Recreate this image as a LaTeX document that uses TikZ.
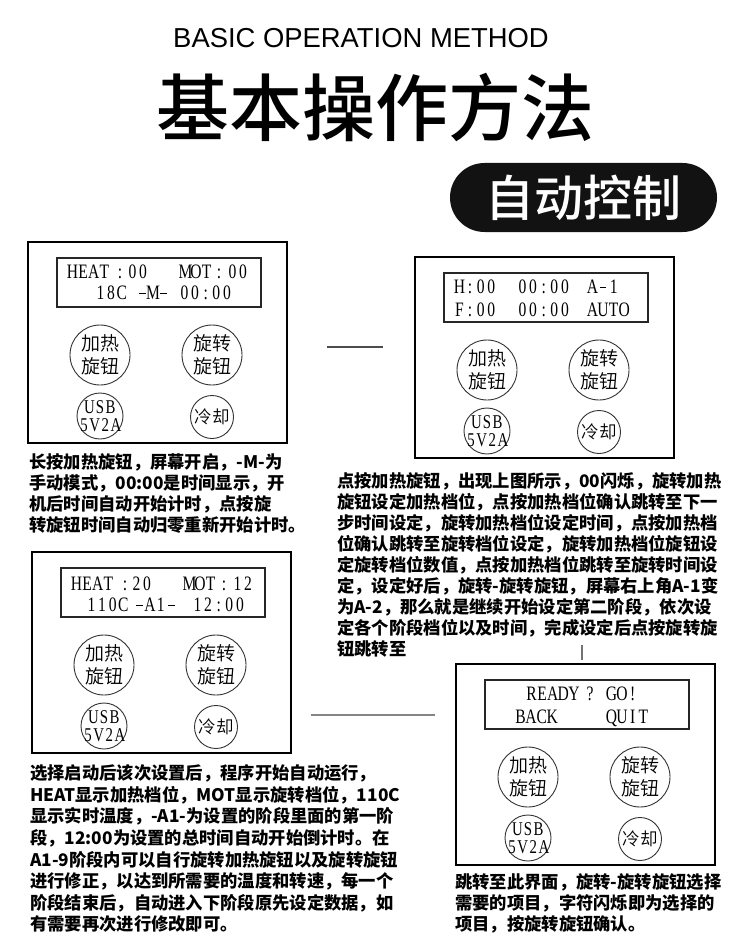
\documentclass[tikz,border=0pt]{standalone}
\usepackage{fontspec}
\setmainfont{Liberation Serif}
\newfontfamily\hdfont{Liberation Sans}
\newfontfamily\cjk{Noto Sans CJK SC}
\newfontfamily\cjkm{Noto Sans CJK SC Medium}
\newfontfamily\cjkl{Noto Sans CJK SC DemiLight}
\newfontfamily\lcdfont{Liberation Serif}[FakeStretch=0.76]
\newlength\lcdw
\setlength\lcdw{10.6pt}
\def\lcdloop#1{\ifx#1\relax\else\lcdone{#1}\expandafter\lcdloop\fi}
\def\lcdone#1{\makebox[\lcdw]{\ifx#1-\rule[5.6pt]{6.5pt}{0.9pt}\else#1\fi}}
\newcommand\lcd[1]{\lcdloop#1\relax}
\tikzset{
 frame/.style={draw=black, line width=1.4pt, minimum width=259pt, minimum height=201pt, inner sep=0},
 lcdbox/.style={draw=black!85, line width=1.3pt, minimum width=204pt, minimum height=49pt, inner sep=0},
 btn/.style={circle, draw=black!80, line width=0.9pt, inner sep=0},
 btntxt/.style={inner sep=0, align=center, font=\cjkl\fontsize{19}{23}\selectfont},
 usbtxt/.style={inner sep=0, align=center, font=\lcdfont\fontsize{19.5}{17.7}\selectfont},
 cooltxt/.style={inner sep=0, font=\cjkl\fontsize{17.5}{17.5}\selectfont},
 lcdt/.style={anchor=base west, inner sep=0, font=\lcdfont\fontsize{20.5}{20.5}\selectfont},
 lcdc/.style={anchor=base, inner sep=0, font=\lcdfont\fontsize{20.5}{20.5}\selectfont},
 body/.style={anchor=base west, inner sep=0, text=black, font=\cjk\bfseries\fontsize{17.3}{21}\selectfont},
 pill/.style={fill=black!93, text=white, rounded corners=34.5pt, minimum width=267pt, minimum height=69pt, inner sep=0, font=\cjkm\fontsize{49}{49}\selectfont},
 linkA/.style={draw=black!70, line width=1.3pt},
 linkB/.style={draw=black!48, line width=2.2pt},
 linkC/.style={draw=black!55, line width=2pt},
}
\newcommand\mypanel[3]{%
 \begin{scope}[shift={(#2,#3)}]
  \node[frame] (#1) at (129.5,100.5) {};
  \node[lcdbox] (#1-d) at (131,40.5) {};
  \node[btn, minimum size=60pt] (#1-h) at (72,113) {};
  \node[btntxt] (#1-ht) at (#1-h) {加热\\旋钮};
  \node[btn, minimum size=60pt] (#1-r) at (184,113) {};
  \node[btntxt] (#1-rt) at (#1-r) {旋转\\旋钮};
  \node[btn, minimum size=46pt] (#1-u) at (72,174) {};
  \node[usbtxt] (#1-ut) at (#1-u) {\lcd{USB}\\\lcd{5V2A}};
  \node[btn, minimum size=43pt] (#1-c) at (184,175) {};
  \node[cooltxt] (#1-ct) at (#1-c) {冷却};
 \end{scope}}
\begin{document}
\begin{tikzpicture}[x=1pt,y=-1pt]
\useasboundingbox (0,0) rectangle (750,941);
\fill[white] (0,0) rectangle (750,941);
% header
\node[anchor=base, inner sep=0, font=\hdfont\fontsize{27.4}{27.4}\selectfont] (sub) at (361,48) {BASIC OPERATION METHOD};
\node[anchor=base, inner sep=0, font=\cjkm\fontsize{73}{73}\selectfont] (title) at (375,136) {基本操作方法};
\node[pill] (auto) at (583.5,197.5) {自动控制};
% panels
\mypanel{pa}{28}{242}
\mypanel{pb}{415}{257}
\mypanel{pc}{32}{552}
\mypanel{pd}{456}{664}
% panel A display
\node[lcdt] (pa1) at (67,278.6) {\lcd{HEAT}};
\node[lcdc] (pa2) at (120,278.6) {:};
\node[lcdt] (pa3) at (127,278.6) {\lcd{00}};
\node[lcdt] (pa4) at (180,278.6) {\lcd{MOT}};
\node[lcdc] (pa5) at (219,278.6) {:};
\node[lcdt] (pa6) at (227,278.6) {\lcd{00}};
\node[lcdt] (pa7) at (95,299.6) {\lcd{18C}};
\node[lcdt] (pa8) at (137,299.6) {\lcd{-M-}};
\node[lcdt] (pa9) at (179,299.6) {\lcd{00:00}};
% panel B display
\node[lcdt] (pb1) at (454,293.6) {\lcd{H:00}};
\node[lcdt] (pb2) at (517,293.6) {\lcd{00:00}};
\node[lcdt] (pb3) at (587,293.6) {\lcd{A-1}};
\node[lcdt] (pb4) at (454,316.6) {\lcd{F:00}};
\node[lcdt] (pb5) at (517,316.6) {\lcd{00:00}};
\node[lcdt] (pb6) at (587,316.6) {\lcd{AUTO}};
% panel C display
\node[lcdt] (pc1) at (71,590) {\lcd{HEAT}};
\node[lcdc] (pc2) at (125,590) {:};
\node[lcdt] (pc3) at (131,590) {\lcd{20}};
\node[lcdt] (pc4) at (184,590) {\lcd{MOT}};
\node[lcdc] (pc5) at (224,590) {:};
\node[lcdt] (pc6) at (232,590) {\lcd{12}};
\node[lcdt] (pc7) at (86,611.6) {\lcd{110C}};
\node[lcdt] (pc8) at (134,611.6) {\lcd{-A1-}};
\node[lcdt] (pc9) at (192,611.6) {\lcd{12:00}};
% panel D display
\node[lcdt] (pd1) at (526,700) {\lcd{READY}};
\node[lcdc] (pd2) at (590,700) {?};
\node[lcdt] (pd3) at (606,700) {\lcd{GO!}};
\node[lcdt] (pd4) at (515,723.3) {\lcd{BACK}};
\node[lcdt] (pd5) at (606,723.3) {\lcd{QUIT}};
% connectors
\coordinate (l1a) at (327,347);
\coordinate (l1b) at (383,347);
\draw[linkA] (l1a) -- (l1b);
\coordinate (l2a) at (311,715);
\coordinate (l2b) at (435,715);
\draw[linkB] (l2a) -- (l2b);
\coordinate (l3a) at (582,645);
\coordinate (l3b) at (582,660);
\draw[linkC] (l3a) -- (l3b);
% texts
\foreach \t [count=\i from 0] in {长按加热旋钮，屏幕开启，-M-为, 手动模式，00:00是时间显示，开, 机后时间自动开始计时，点按旋, 转旋钮时间自动归零重新开始计时。}
  \node[body] (ta-\i) at (29,{468+21*\i}) {\t};
\foreach \t [count=\i from 0] in {点按加热旋钮，出现上图所示，00闪烁，旋转加热, 旋钮设定加热档位，点按加热档位确认跳转至下一, 步时间设定，旋转加热档位设定时间，点按加热档, 位确认跳转至旋转档位设定，旋转加热档位旋钮设, 定旋转档位数值，点按加热档位跳转至旋转时间设, 定，设定好后，旋转-旋转旋钮，屏幕右上角A-1变, 为A-2，那么就是继续开始设定第二阶段，依次设, 定各个阶段档位以及时间，完成设定后点按旋转旋, 钮跳转至}
  \node[body] (tb-\i) at (337,{487.6+21*\i}) {\t};
\foreach \t [count=\i from 0] in {选择启动后该次设置后，程序开始自动运行，, HEAT显示加热档位，MOT显示旋转档位，110C, 显示实时温度，-A1-为设置的阶段里面的第一阶, 段，12:00为设置的总时间自动开始倒计时。在, A1-9阶段内可以自行旋转加热旋钮以及旋转旋钮, 进行修正，以达到所需要的温度和转速，每一个, 阶段结束后，自动进入下阶段原先设定数据，如, 有需要再次进行修改即可。}
  \node[body] (tc-\i) at (30,{779.6+21.6*\i}) {\t};
\foreach \t [count=\i from 0] in {跳转至此界面，旋转-旋转旋钮选择, 需要的项目，字符闪烁即为选择的, 项目，按旋转旋钮确认。}
  \node[body] (td-\i) at (455,{888.6+21*\i}) {\t};
\end{tikzpicture}
\end{document}
